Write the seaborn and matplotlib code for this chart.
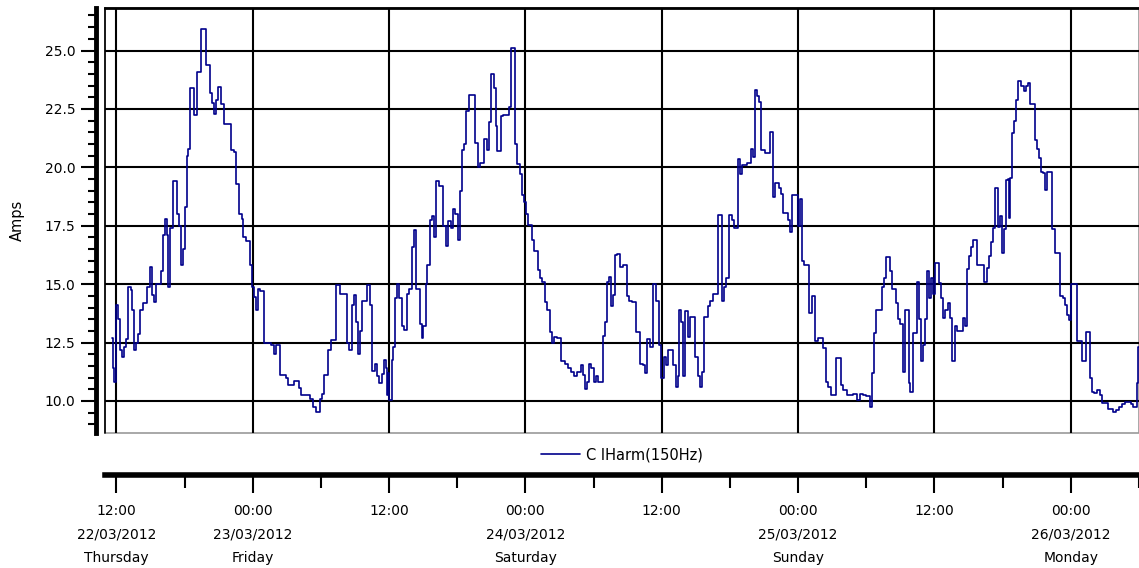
import numpy as np
import pandas as pd
import matplotlib
matplotlib.use("Agg")
import matplotlib.pyplot as plt
import matplotlib.dates as mdates
from matplotlib.ticker import MultipleLocator
import seaborn as sns

# readings: hours since 22/03/2012 00:00 where the level changes, and the level (Amps)
hours = [
    11.62, 11.68, 11.82, 12.00, 12.12, 12.35, 12.53, 12.71, 12.88, 13.00, 13.30, 13.42, 13.53, 13.77, 13.89,
    14.12, 14.36, 14.71, 15.00, 15.12, 15.30, 15.53, 15.95, 16.07, 16.25, 16.42, 16.54, 16.72, 16.96, 17.31,
    17.52, 17.66, 17.84, 18.02, 18.19, 18.31, 18.49, 18.84, 19.14, 19.49, 19.88, 20.20, 20.38, 20.55, 20.73,
    20.91, 21.20, 21.50, 22.09, 22.38, 22.56, 22.80, 23.03, 23.15, 23.39, 23.80, 23.92, 24.09, 24.27, 24.45,
    24.68, 24.98, 25.63, 25.86, 26.01, 26.40, 26.93, 27.10, 27.63, 28.05, 28.28, 29.02, 29.32, 29.61, 29.91,
    30.06, 30.26, 30.64, 30.88, 31.29, 31.68, 32.27, 32.47, 32.71, 32.88, 33.12, 33.24, 33.42, 33.59, 34.07,
    34.36, 34.48, 34.77, 34.95, 35.13, 35.36, 35.54, 35.72, 35.83, 35.95, 36.03,
    36.24, 36.38, 36.53, 36.68, 36.91, 37.12, 37.32, 37.56, 37.79, 38.03, 38.21, 38.38, 38.68, 38.88, 39.03,
    39.21, 39.38, 39.56, 39.79, 39.97, 40.09, 40.38, 40.79, 40.97, 41.15, 41.44, 41.62, 41.79, 42.03, 42.21,
    42.38, 42.56, 42.79, 43.03, 43.56, 43.79, 44.03, 44.38, 44.62, 44.79, 44.97, 45.21, 45.38, 45.50, 45.85,
    46.03, 46.56, 46.74, 47.09, 47.26, 47.50, 47.74, 47.91, 48.03, 48.21, 48.56, 48.79, 49.09, 49.32, 49.50,
    49.68, 49.91, 50.15, 50.32, 50.50, 50.74, 51.15, 51.50, 51.74, 51.97, 52.26, 52.56, 52.85, 53.03, 53.21,
    53.44, 53.62, 53.79, 54.03, 54.21, 54.38, 54.79, 54.97, 55.15, 55.32, 55.50, 55.68, 55.91, 56.09, 56.32,
    56.56, 56.91, 57.15, 57.38, 57.74, 58.09, 58.32, 58.56, 58.74, 58.97, 59.26, 59.50, 59.74, 59.97, 60.21,
    60.38, 60.56, 61.03, 61.26, 61.40, 61.50,
    61.72, 61.89, 62.07, 62.31, 62.49, 62.90, 63.20, 63.37, 63.55, 63.73, 64.08, 64.26, 64.50, 64.97, 65.27,
    65.44, 65.68, 65.92, 66.15, 66.33, 66.69, 66.92, 67.10, 67.51, 67.81, 68.05, 68.22, 68.40, 68.58, 68.76,
    69.05, 69.53, 69.76, 69.94, 70.30, 70.47, 70.65, 71.12, 71.30, 71.48, 71.95, 72.13, 72.37, 72.54, 72.96,
    73.20, 73.49, 73.73, 74.20, 74.44, 74.67, 74.85, 75.33, 75.74, 75.98, 76.33, 76.86, 77.22, 77.46, 77.69,
    77.99, 78.34, 78.52, 78.70, 78.88, 79.35, 79.53, 79.76, 80.12, 80.30, 80.59, 80.83, 81.01, 81.24, 81.42,
    81.72, 81.89, 82.07, 82.49, 82.66, 82.78, 82.96, 83.20, 83.37, 83.49, 83.67, 83.85, 84.02, 84.38, 84.56,
    84.79, 84.97, 85.15, 85.38, 85.56, 85.83,
    85.98, 86.50, 86.67, 86.85, 87.02, 87.20, 87.43, 87.72, 88.36, 88.59, 88.77, 88.94, 89.12, 89.29, 89.58,
    89.76, 89.93, 90.10, 90.28, 90.45, 90.57, 90.69, 90.86, 91.03, 91.21, 91.38, 91.62, 91.85, 92.08, 92.26,
    92.43, 92.84, 93.01, 93.19, 93.36, 93.53, 93.77, 93.94, 94.35, 94.58, 95.05, 95.28, 95.51, 95.69, 95.86,
    96.03, 96.50, 96.97, 97.31, 97.66, 97.84, 98.07, 98.30, 98.53, 98.77, 99.23, 99.70, 99.99, 100.28, 100.51,
    100.74, 101.27, 101.50, 101.79, 101.91, 102.00,
]
amps = [
    12.7, 11.4, 10.8, 14.1, 13.5, 12.2, 11.9, 12.3, 12.65, 14.9, 14.75, 13.9, 12.2, 12.5, 12.85,
    13.9, 14.2, 14.9, 15.75, 14.55, 14.25, 15.0, 15.55, 17.1, 17.8, 17.1, 14.9, 17.4, 19.4, 18.0,
    17.5, 15.8, 16.5, 18.3, 20.5, 20.8, 23.4, 22.25, 24.1, 25.9, 24.4, 23.2, 22.75, 22.3, 22.9,
    23.45, 22.7, 21.85, 20.75, 20.65, 19.3, 18.0, 17.8, 17.0, 16.85, 15.8, 14.9, 14.45, 13.9, 14.8,
    14.7, 12.5, 12.4, 12.0, 12.4, 11.1, 11.0, 10.7, 10.85, 10.55, 10.25, 10.1, 9.75, 9.55, 10.1,
    10.3, 11.1, 12.2, 12.6, 14.95, 14.6, 12.5, 12.2, 14.1, 14.55, 13.4, 12.0, 13.0, 14.3, 14.95,
    14.1, 11.3, 11.6, 11.05, 10.75, 11.15, 11.75, 11.4, 10.25, 11.2, 10.05,
    11.75, 12.3, 14.4, 15.0, 14.4, 13.2, 13.05, 14.6, 14.8, 16.6, 17.3, 14.8, 13.3, 12.7, 13.2,
    15.0, 15.8, 17.75, 17.9, 17.0, 19.4, 19.2, 17.5, 16.65, 17.7, 17.4, 18.2, 18.0, 16.9, 19.0,
    20.75, 21.0, 22.4, 23.1, 21.05, 20.0, 20.2, 21.2, 20.75, 21.95, 24.0, 23.4, 21.75, 20.7, 22.2,
    22.25, 22.6, 25.1, 21.0, 20.15, 19.7, 18.8, 18.5, 18.0, 17.55, 16.9, 16.4, 15.6, 15.25, 15.1,
    14.25, 13.9, 12.95, 12.5, 12.75, 12.7, 11.7, 11.6, 11.4, 11.25, 11.05, 11.25, 11.55, 11.1, 10.5,
    10.8, 11.6, 11.4, 10.8, 11.05, 10.8, 12.8, 13.4, 15.1, 15.3, 14.05, 14.55, 16.25, 16.3, 15.75,
    15.8, 14.5, 14.3, 14.25, 12.95, 11.6, 11.55, 11.2, 12.65, 12.3, 15.0, 14.3, 12.4, 11.0, 11.9,
    11.55, 12.2, 11.55, 10.6, 11.05, 13.9,
    13.4, 11.05, 13.85, 12.75, 13.6, 11.9, 11.05, 10.6, 11.25, 13.6, 14.05, 14.3, 14.6, 17.95, 14.3,
    14.9, 15.25, 17.95, 17.75, 17.4, 20.35, 19.7, 20.1, 20.2, 20.8, 20.45, 23.3, 23.05, 22.8, 20.75,
    20.6, 21.5, 18.75, 19.35, 19.1, 18.85, 18.05, 17.75, 17.25, 18.8, 17.5, 18.65, 16.0, 15.8, 13.75,
    14.5, 12.55, 12.7, 12.25, 10.8, 10.6, 10.25, 11.85, 10.7, 10.45, 10.25, 10.3, 10.05, 10.3, 10.25,
    10.2, 9.75, 11.2, 12.9, 13.9, 14.9, 15.25, 16.15, 15.55, 14.8, 14.2, 13.5, 13.3, 11.25, 13.9,
    10.75, 10.4, 12.9, 15.1, 13.5, 11.7, 12.4, 13.5, 15.55, 14.4, 15.25, 14.6, 15.9, 15.05, 14.4,
    13.55, 13.9, 14.2, 13.55, 11.7, 13.2,
    13.0, 13.55, 13.2, 15.65, 16.2, 16.6, 16.9, 15.8, 15.1, 15.7, 16.2, 16.8, 17.4, 19.1, 17.45,
    17.9, 16.35, 17.35, 19.45, 19.5, 17.85, 19.55, 21.45, 22.0, 22.9, 23.7, 23.5, 23.25, 23.5, 23.6,
    22.7, 21.15, 20.8, 20.4, 19.8, 19.75, 19.05, 19.8, 17.35, 16.35, 14.5, 14.4, 14.1, 13.7, 13.45,
    15.0, 12.55, 11.7, 12.95, 11.0, 10.4, 10.35, 10.45, 10.25, 9.9, 9.65, 9.55, 9.6, 9.75, 9.85,
    9.95, 9.85, 9.75, 10.75, 12.3, 12.3,
]
series_name = "C IHarm(150Hz)"
y_ticks = [10.0, 12.5, 15.0, 17.5, 20.0, 22.5, 25.0]

start = pd.Timestamp("2012-03-22 00:00")
x_start = start + pd.Timedelta(hours=11.0)
x_end = start + pd.Timedelta(hours=102.0)
tick_times = pd.date_range("2012-03-22 12:00", "2012-03-26 00:00", freq="12h")

df = pd.DataFrame({"time": start + pd.to_timedelta(hours, unit="h"), "amps": amps})

sns.set_style("white")
plt.rcParams["font.family"] = ["DejaVu Sans"]
plt.rcParams["text.color"] = "black"
plt.rcParams["axes.labelcolor"] = "black"

fig = plt.figure(figsize=(11.39, 5.68), dpi=100)
ax = fig.add_axes([105 / 1139, 1 - 433 / 568, 1034 / 1139, 425 / 568])

sns.lineplot(data=df, x="time", y="amps", drawstyle="steps-post", color="#00008B",
             lw=1.2, label=series_name, ax=ax)

ax.set_xlim(x_start, x_end)
ax.set_ylim(8.63, 26.82)

# x ticks: time, plus date and weekday at midnight (and the first tick)
labels = []
for i, t in enumerate(tick_times):
    if t.hour == 0 or i == 0:
        labels.append(t.strftime("%H:%M\n%d/%m/%Y\n%A"))
    else:
        labels.append(t.strftime("%H:%M"))
ax.set_xticks(tick_times.to_pydatetime(), labels, fontsize=10.5)
ax.xaxis.set_minor_locator(mdates.HourLocator(byhour=[6, 18]))

ax.set_yticks(y_ticks, [f"{v:.1f}" for v in y_ticks], fontsize=10.5)
ax.yaxis.set_minor_locator(MultipleLocator(0.5))

ax.grid(True, which="major", color="black", lw=1.5)
ax.set_axisbelow(True)

ax.tick_params(axis="x", which="major", bottom=True, direction="out", length=13, width=1.5, pad=8, colors="black")
ax.tick_params(axis="x", which="minor", bottom=True, direction="out", length=9, width=1.5, colors="black")
ax.tick_params(axis="y", which="major", left=True, direction="out", length=11, width=1.5, pad=4, colors="black")
ax.tick_params(axis="y", which="minor", left=True, direction="out", length=6, width=1.5, colors="black")

# spines offsets are in points (1 px = 0.72 pt at 100 dpi)
ax.spines["bottom"].set_position(("outward", 30))
ax.spines["bottom"].set_linewidth(4)
ax.spines["bottom"].set_color("black")
ax.spines["left"].set_position(("outward", 6.5))
ax.spines["left"].set_linewidth(3.5)
ax.spines["left"].set_color("black")
ax.spines["top"].set_linewidth(2)
ax.spines["top"].set_color("black")
ax.spines["right"].set_visible(False)

# plot frame
ax.patch.set_edgecolor("#999999")
ax.patch.set_linewidth(1.2)
ax.axvline(x_start, color="black", lw=1.2, clip_on=False)

ax.set_xlabel("")
ax.set_ylabel("Amps", fontsize=10.5, labelpad=14)

ax.legend(loc="center", bbox_to_anchor=(0.5, -0.052), frameon=False, handlelength=2.7,
          handletextpad=0.4, fontsize=10.5)

fig.canvas.draw()
for lbl in ax.get_xticklabels():
    lbl.set_linespacing(1.85)

fig.savefig("out.png", dpi=100)
